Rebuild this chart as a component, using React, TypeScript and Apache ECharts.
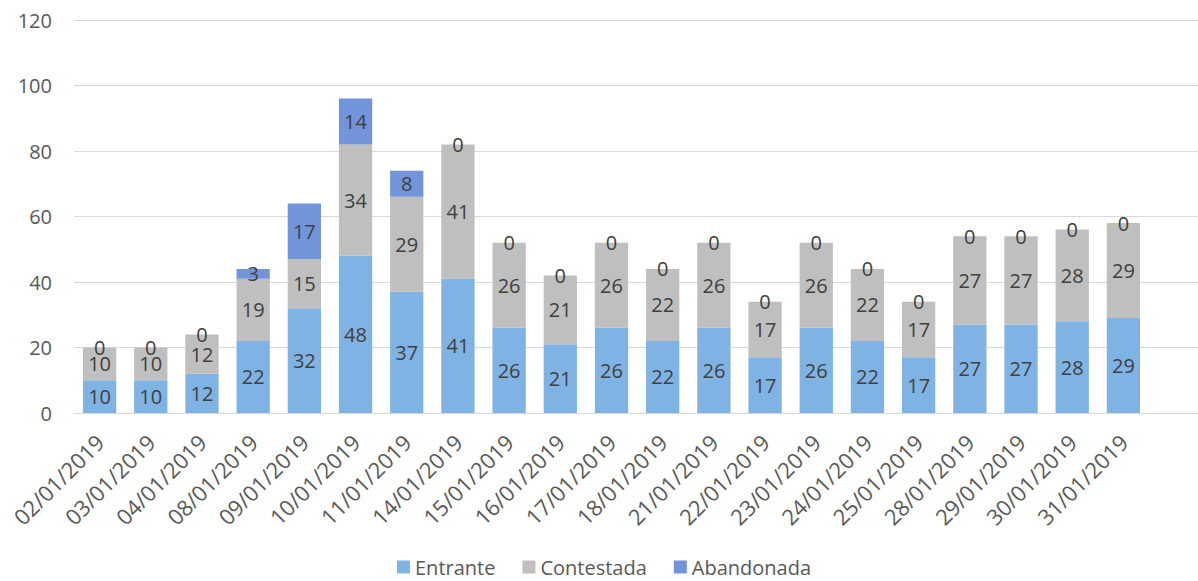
import React, { useEffect, useRef } from "react";
import * as echarts from "echarts";

const categories = [
  "02/01/2019", "03/01/2019", "04/01/2019", "08/01/2019", "09/01/2019", "10/01/2019",
  "11/01/2019", "14/01/2019", "15/01/2019", "16/01/2019", "17/01/2019", "18/01/2019",
  "21/01/2019", "22/01/2019", "23/01/2019", "24/01/2019", "25/01/2019", "28/01/2019",
  "29/01/2019", "30/01/2019", "31/01/2019",
];
const entrante = [10, 10, 12, 22, 32, 48, 37, 41, 26, 21, 26, 22, 26, 17, 26, 22, 17, 27, 27, 28, 29];
const contestada = [10, 10, 12, 19, 15, 34, 29, 41, 26, 21, 26, 22, 26, 17, 26, 22, 17, 27, 27, 28, 29];
const abandonada = [0, 0, 0, 3, 17, 14, 8, 0, 0, 0, 0, 0, 0, 0, 0, 0, 0, 0, 0, 0, 0];
const yMin = 0;
const yMax = 120;
const yStep = 20;

const FONT = "'Open Sans', sans-serif";
const LABEL_COLOR = "#404040";
const AXIS_COLOR = "#595959";

export default function App() {
  const ref = useRef<HTMLDivElement>(null);
  useEffect(() => {
    document.body.style.margin = "0";
    if (!ref.current) return;
    const chart = echarts.init(ref.current, undefined, { renderer: "svg" });
    const label = {
      show: true,
      position: "inside" as const,
      color: LABEL_COLOR,
      fontSize: 20,
      fontFamily: FONT,
    };
    chart.setOption({
      animation: false,
      backgroundColor: "#ffffff",
      textStyle: { fontFamily: FONT },
      grid: [
        { left: 74, right: 49, top: 20, bottom: 168 },
        { left: 74, right: 0, top: 20, bottom: 168 },
      ],
      legend: {
        left: 397,
        top: 557,
        padding: 0,
        itemWidth: 13,
        itemHeight: 13,
        itemGap: 27,
        icon: "rect",
        textStyle: { fontSize: 20, lineHeight: 20, color: AXIS_COLOR, fontFamily: FONT, padding: [0, 0, 0, 0] },
        data: ["Entrante", "Contestada", "Abandonada"],
      },
      xAxis: [
        {
          type: "category",
          gridIndex: 0,
          data: categories,
          axisLine: { show: false },
          axisTick: { show: false },
          axisLabel: {
            rotate: 45,
            fontSize: 22,
            color: AXIS_COLOR,
            fontFamily: FONT,
            margin: 25,
            interval: 0,
          },
        },
        {
          type: "value",
          gridIndex: 1,
          min: 0,
          max: 1,
          axisLine: { show: true, lineStyle: { color: "#D9D9D9", width: 1 } },
          axisTick: { show: false },
          axisLabel: { show: false },
          splitLine: { show: false },
        },
      ],
      yAxis: [
        {
          type: "value",
          gridIndex: 0,
          min: yMin,
          max: yMax,
          interval: yStep,
          axisLine: { show: false },
          axisTick: { show: false },
          splitLine: { show: false },
          axisLabel: { fontSize: 20, color: AXIS_COLOR, fontFamily: FONT, margin: 22 },
        },
        {
          type: "value",
          gridIndex: 1,
          min: yMin,
          max: yMax,
          interval: yStep,
          axisLine: { show: false },
          axisTick: { show: false },
          axisLabel: { show: false },
          splitLine: { show: true, lineStyle: { color: "#D9D9D9", width: 1 } },
        },
      ],
      series: [
        {
          name: "Entrante",
          type: "bar",
          stack: "total",
          xAxisIndex: 0,
          yAxisIndex: 0,
          barWidth: "65%",
          itemStyle: { color: "#7FB3E4" },
          label,
          data: entrante,
        },
        {
          name: "Contestada",
          type: "bar",
          stack: "total",
          xAxisIndex: 0,
          yAxisIndex: 0,
          barWidth: "65%",
          itemStyle: { color: "#BFBFBF" },
          label,
          data: contestada,
        },
        {
          name: "Abandonada",
          type: "bar",
          stack: "total",
          xAxisIndex: 0,
          yAxisIndex: 0,
          barWidth: "65%",
          itemStyle: { color: "#7294DA" },
          label,
          data: abandonada,
        },
      ],
    });
    return () => chart.dispose();
  }, []);
  return <div ref={ref} style={{ width: 1198, height: 581 }} />;
}
